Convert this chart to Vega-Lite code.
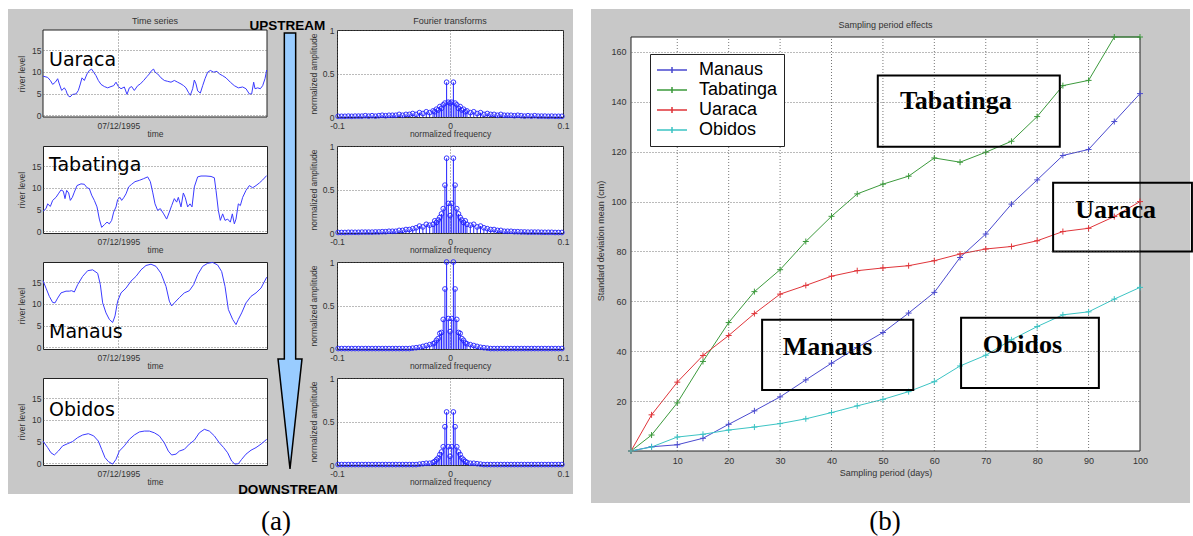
{
"$schema":"https://vega.github.io/schema/vega-lite/v6.json",
"background":"white",
"padding":{"left":7,"top":8,"right":0,"bottom":0},
"config":{
 "view":{"stroke":"#222","fill":"white","strokeWidth":1},
 "axis":{"labelFont":"Liberation Sans","titleFont":"Liberation Sans","labelFontSize":8.5,"titleFontSize":8.5,"titleFontWeight":"normal","labelColor":"#333","titleColor":"#333","domain":false,"ticks":false,"grid":true,"gridColor":"#555","gridDash":[1,2],"gridOpacity":0.8,"labelFlush":false,"labelOverlap":false},
 "axisX":{"labelPadding":4,"titlePadding":0},
 "axisY":{"labelPadding":2,"titlePadding":5}
},
"datasets":{
"ts":[
{"s":"U","t":0,"v":9.0},{"s":"U","t":14,"v":8.7},{"s":"U","t":22,"v":8.0},{"s":"U","t":29,"v":7.1},{"s":"U","t":37,"v":7.6},{"s":"U","t":44,"v":8.4},{"s":"U","t":49,"v":7.2},{"s":"U","t":56,"v":5.7},{"s":"U","t":64,"v":6.3},{"s":"U","t":69,"v":5.7},{"s":"U","t":74,"v":4.6},{"s":"U","t":81,"v":4.2},{"s":"U","t":89,"v":4.8},{"s":"U","t":99,"v":4.9},{"s":"U","t":106,"v":5.7},{"s":"U","t":112,"v":7.2},{"s":"U","t":117,"v":8.6},{"s":"U","t":124,"v":8.0},{"s":"U","t":132,"v":9.5},{"s":"U","t":139,"v":10.3},{"s":"U","t":146,"v":10.6},{"s":"U","t":152,"v":9.9},{"s":"U","t":159,"v":9.1},{"s":"U","t":166,"v":8.0},{"s":"U","t":174,"v":7.1},{"s":"U","t":184,"v":6.6},{"s":"U","t":194,"v":6.3},{"s":"U","t":204,"v":6.6},{"s":"U","t":212,"v":6.8},{"s":"U","t":219,"v":7.6},{"s":"U","t":226,"v":6.6},{"s":"U","t":234,"v":6.1},{"s":"U","t":244,"v":6.5},{"s":"U","t":252,"v":4.8},{"s":"U","t":259,"v":6.3},{"s":"U","t":266,"v":6.6},{"s":"U","t":274,"v":5.7},{"s":"U","t":284,"v":6.8},{"s":"U","t":292,"v":7.2},{"s":"U","t":302,"v":8.0},{"s":"U","t":312,"v":8.9},{"s":"U","t":319,"v":9.5},{"s":"U","t":326,"v":10.3},{"s":"U","t":332,"v":10.6},{"s":"U","t":336,"v":9.9},{"s":"U","t":344,"v":9.5},{"s":"U","t":354,"v":8.6},{"s":"U","t":364,"v":8.0},{"s":"U","t":374,"v":7.8},{"s":"U","t":384,"v":7.6},{"s":"U","t":394,"v":8.0},{"s":"U","t":404,"v":7.6},{"s":"U","t":414,"v":7.2},{"s":"U","t":422,"v":6.8},{"s":"U","t":429,"v":6.3},{"s":"U","t":436,"v":5.3},{"s":"U","t":442,"v":4.6},{"s":"U","t":449,"v":6.1},{"s":"U","t":454,"v":8.1},{"s":"U","t":459,"v":7.2},{"s":"U","t":464,"v":5.6},{"s":"U","t":472,"v":5.1},{"s":"U","t":479,"v":6.8},{"s":"U","t":486,"v":8.4},{"s":"U","t":494,"v":9.9},{"s":"U","t":502,"v":10.3},{"s":"U","t":512,"v":9.9},{"s":"U","t":522,"v":10.1},{"s":"U","t":529,"v":9.5},{"s":"U","t":539,"v":9.1},{"s":"U","t":549,"v":8.6},{"s":"U","t":562,"v":7.6},{"s":"U","t":574,"v":6.8},{"s":"U","t":586,"v":6.3},{"s":"U","t":599,"v":6.5},{"s":"U","t":609,"v":6.1},{"s":"U","t":619,"v":4.9},{"s":"U","t":626,"v":4.9},{"s":"U","t":632,"v":7.6},{"s":"U","t":636,"v":6.1},{"s":"U","t":644,"v":6.3},{"s":"U","t":652,"v":6.1},{"s":"U","t":659,"v":6.8},{"s":"U","t":666,"v":8.4},{"s":"U","t":671,"v":10.4},
{"s":"T","t":0,"v":4.6},{"s":"T","t":9,"v":5.2},{"s":"T","t":14,"v":6.3},{"s":"T","t":22,"v":5.7},{"s":"T","t":29,"v":7.1},{"s":"T","t":39,"v":7.8},{"s":"T","t":46,"v":8.6},{"s":"T","t":54,"v":9.5},{"s":"T","t":61,"v":9.2},{"s":"T","t":66,"v":7.5},{"s":"T","t":71,"v":9.4},{"s":"T","t":77,"v":8.8},{"s":"T","t":82,"v":7.1},{"s":"T","t":88,"v":7.8},{"s":"T","t":94,"v":9.0},{"s":"T","t":102,"v":10.5},{"s":"T","t":114,"v":10.9},{"s":"T","t":124,"v":10.8},{"s":"T","t":132,"v":10.0},{"s":"T","t":139,"v":9.8},{"s":"T","t":146,"v":8.3},{"s":"T","t":154,"v":7.1},{"s":"T","t":162,"v":5.6},{"s":"T","t":169,"v":2.8},{"s":"T","t":176,"v":0.9},{"s":"T","t":184,"v":1.5},{"s":"T","t":192,"v":2.1},{"s":"T","t":199,"v":1.7},{"s":"T","t":206,"v":2.5},{"s":"T","t":212,"v":4.4},{"s":"T","t":219,"v":5.6},{"s":"T","t":224,"v":7.3},{"s":"T","t":231,"v":7.8},{"s":"T","t":236,"v":7.1},{"s":"T","t":242,"v":7.7},{"s":"T","t":249,"v":8.6},{"s":"T","t":257,"v":10.2},{"s":"T","t":266,"v":10.8},{"s":"T","t":276,"v":11.4},{"s":"T","t":289,"v":11.7},{"s":"T","t":302,"v":12.1},{"s":"T","t":314,"v":12.5},{"s":"T","t":322,"v":11.4},{"s":"T","t":329,"v":9.0},{"s":"T","t":336,"v":6.3},{"s":"T","t":344,"v":4.8},{"s":"T","t":352,"v":5.2},{"s":"T","t":362,"v":4.0},{"s":"T","t":371,"v":2.8},{"s":"T","t":379,"v":4.4},{"s":"T","t":386,"v":5.9},{"s":"T","t":394,"v":7.5},{"s":"T","t":401,"v":6.7},{"s":"T","t":406,"v":7.8},{"s":"T","t":414,"v":5.6},{"s":"T","t":421,"v":8.8},{"s":"T","t":427,"v":7.7},{"s":"T","t":434,"v":5.6},{"s":"T","t":441,"v":6.3},{"s":"T","t":447,"v":5.6},{"s":"T","t":454,"v":10.2},{"s":"T","t":464,"v":12.5},{"s":"T","t":474,"v":12.7},{"s":"T","t":489,"v":12.7},{"s":"T","t":504,"v":12.6},{"s":"T","t":514,"v":12.3},{"s":"T","t":519,"v":9.4},{"s":"T","t":526,"v":4.8},{"s":"T","t":532,"v":2.5},{"s":"T","t":539,"v":4.0},{"s":"T","t":546,"v":2.5},{"s":"T","t":554,"v":2.8},{"s":"T","t":562,"v":2.1},{"s":"T","t":568,"v":4.0},{"s":"T","t":574,"v":1.7},{"s":"T","t":579,"v":2.8},{"s":"T","t":586,"v":6.3},{"s":"T","t":592,"v":5.9},{"s":"T","t":599,"v":7.8},{"s":"T","t":609,"v":9.4},{"s":"T","t":619,"v":10.5},{"s":"T","t":629,"v":10.0},{"s":"T","t":639,"v":10.5},{"s":"T","t":649,"v":11.1},{"s":"T","t":659,"v":11.8},{"s":"T","t":671,"v":12.8},
{"s":"M","t":0,"v":15.3},{"s":"M","t":9,"v":13.6},{"s":"M","t":19,"v":11.7},{"s":"M","t":29,"v":10.3},{"s":"M","t":36,"v":10.2},{"s":"M","t":44,"v":11.3},{"s":"M","t":54,"v":12.5},{"s":"M","t":69,"v":12.9},{"s":"M","t":79,"v":12.9},{"s":"M","t":86,"v":13.0},{"s":"M","t":94,"v":12.7},{"s":"M","t":104,"v":14.4},{"s":"M","t":119,"v":16.3},{"s":"M","t":134,"v":17.6},{"s":"M","t":149,"v":17.8},{"s":"M","t":164,"v":17.0},{"s":"M","t":172,"v":14.4},{"s":"M","t":179,"v":10.2},{"s":"M","t":189,"v":7.9},{"s":"M","t":199,"v":6.4},{"s":"M","t":209,"v":5.7},{"s":"M","t":216,"v":7.2},{"s":"M","t":224,"v":10.6},{"s":"M","t":234,"v":12.5},{"s":"M","t":249,"v":13.6},{"s":"M","t":264,"v":15.2},{"s":"M","t":279,"v":16.3},{"s":"M","t":294,"v":17.8},{"s":"M","t":309,"v":18.8},{"s":"M","t":324,"v":19.1},{"s":"M","t":339,"v":18.6},{"s":"M","t":354,"v":17.0},{"s":"M","t":369,"v":14.0},{"s":"M","t":379,"v":10.6},{"s":"M","t":386,"v":9.5},{"s":"M","t":394,"v":10.2},{"s":"M","t":409,"v":11.4},{"s":"M","t":424,"v":12.5},{"s":"M","t":439,"v":13.0},{"s":"M","t":452,"v":14.4},{"s":"M","t":464,"v":16.7},{"s":"M","t":479,"v":18.6},{"s":"M","t":494,"v":19.3},{"s":"M","t":509,"v":19.5},{"s":"M","t":524,"v":18.9},{"s":"M","t":536,"v":17.4},{"s":"M","t":546,"v":14.0},{"s":"M","t":556,"v":8.7},{"s":"M","t":569,"v":6.4},{"s":"M","t":579,"v":5.2},{"s":"M","t":586,"v":6.4},{"s":"M","t":596,"v":7.9},{"s":"M","t":609,"v":10.2},{"s":"M","t":624,"v":11.7},{"s":"M","t":639,"v":12.5},{"s":"M","t":654,"v":13.6},{"s":"M","t":671,"v":16.1},
{"s":"O","t":0,"v":5.1},{"s":"O","t":14,"v":3.6},{"s":"O","t":24,"v":2.4},{"s":"O","t":34,"v":1.9},{"s":"O","t":46,"v":2.8},{"s":"O","t":59,"v":4.0},{"s":"O","t":74,"v":4.5},{"s":"O","t":89,"v":5.0},{"s":"O","t":104,"v":5.9},{"s":"O","t":119,"v":6.5},{"s":"O","t":136,"v":6.8},{"s":"O","t":152,"v":6.3},{"s":"O","t":166,"v":5.1},{"s":"O","t":176,"v":3.2},{"s":"O","t":186,"v":1.3},{"s":"O","t":196,"v":0.4},{"s":"O","t":209,"v":-0.2},{"s":"O","t":219,"v":0.9},{"s":"O","t":229,"v":2.8},{"s":"O","t":244,"v":4.0},{"s":"O","t":259,"v":5.5},{"s":"O","t":274,"v":6.5},{"s":"O","t":289,"v":7.2},{"s":"O","t":304,"v":7.4},{"s":"O","t":319,"v":7.4},{"s":"O","t":334,"v":7.0},{"s":"O","t":349,"v":6.3},{"s":"O","t":364,"v":4.7},{"s":"O","t":376,"v":2.8},{"s":"O","t":386,"v":1.9},{"s":"O","t":399,"v":2.1},{"s":"O","t":409,"v":2.8},{"s":"O","t":424,"v":3.2},{"s":"O","t":439,"v":4.4},{"s":"O","t":454,"v":5.3},{"s":"O","t":469,"v":7.0},{"s":"O","t":484,"v":7.8},{"s":"O","t":499,"v":7.4},{"s":"O","t":514,"v":6.3},{"s":"O","t":529,"v":4.7},{"s":"O","t":542,"v":3.6},{"s":"O","t":554,"v":2.4},{"s":"O","t":566,"v":0.5},{"s":"O","t":576,"v":-0.2},{"s":"O","t":586,"v":-0.1},{"s":"O","t":596,"v":0.9},{"s":"O","t":609,"v":2.1},{"s":"O","t":624,"v":3.0},{"s":"O","t":639,"v":3.6},{"s":"O","t":654,"v":4.4},{"s":"O","t":671,"v":5.5}
],
"fft":[
{"f":-0.099,"U":0.008,"T":0.006,"M":0.005,"O":0.005},
{"f":-0.096,"U":0.008,"T":0.006,"M":0.005,"O":0.005},
{"f":-0.093,"U":0.008,"T":0.006,"M":0.005,"O":0.005},
{"f":-0.09,"U":0.01,"T":0.008,"M":0.005,"O":0.005},
{"f":-0.087,"U":0.008,"T":0.008,"M":0.005,"O":0.005},
{"f":-0.084,"U":0.01,"T":0.008,"M":0.005,"O":0.005},
{"f":-0.081,"U":0.01,"T":0.008,"M":0.005,"O":0.005},
{"f":-0.078,"U":0.01,"T":0.01,"M":0.005,"O":0.005},
{"f":-0.075,"U":0.015,"T":0.01,"M":0.005,"O":0.005},
{"f":-0.072,"U":0.01,"T":0.01,"M":0.005,"O":0.005},
{"f":-0.069,"U":0.015,"T":0.01,"M":0.005,"O":0.005},
{"f":-0.066,"U":0.01,"T":0.012,"M":0.005,"O":0.005},
{"f":-0.063,"U":0.015,"T":0.012,"M":0.005,"O":0.005},
{"f":-0.06,"U":0.02,"T":0.015,"M":0.005,"O":0.005},
{"f":-0.057,"U":0.015,"T":0.015,"M":0.005,"O":0.005},
{"f":-0.054,"U":0.02,"T":0.02,"M":0.005,"O":0.005},
{"f":-0.051,"U":0.02,"T":0.02,"M":0.005,"O":0.005},
{"f":-0.048,"U":0.02,"T":0.02,"M":0.005,"O":0.005},
{"f":-0.045,"U":0.03,"T":0.03,"M":0.005,"O":0.005},
{"f":-0.042,"U":0.02,"T":0.03,"M":0.005,"O":0.005},
{"f":-0.039,"U":0.03,"T":0.04,"M":0.005,"O":0.005},
{"f":-0.036,"U":0.03,"T":0.04,"M":0.005,"O":0.005},
{"f":-0.033,"U":0.04,"T":0.05,"M":0.01,"O":0.005},
{"f":-0.03,"U":0.03,"T":0.06,"M":0.015,"O":0.005},
{"f":-0.027,"U":0.05,"T":0.08,"M":0.02,"O":0.01},
{"f":-0.024,"U":0.04,"T":0.07,"M":0.03,"O":0.015},
{"f":-0.021,"U":0.06,"T":0.1,"M":0.04,"O":0.02},
{"f":-0.018,"U":0.05,"T":0.09,"M":0.05,"O":0.02},
{"f":-0.015,"U":0.07,"T":0.1,"M":0.06,"O":0.03},
{"f":-0.0135,"U":0.06,"T":0.14,"M":0.07,"O":0.04},
{"f":-0.012,"U":0.09,"T":0.12,"M":0.1,"O":0.06},
{"f":-0.0105,"U":0.08,"T":0.15,"M":0.12,"O":0.08},
{"f":-0.009,"U":0.12,"T":0.18,"M":0.18,"O":0.12},
{"f":-0.0075,"U":0.1,"T":0.22,"M":0.19,"O":0.15},
{"f":-0.006,"U":0.14,"T":0.28,"M":0.34,"O":0.21},
{"f":-0.0045,"U":0.16,"T":0.55,"M":0.69,"O":0.44},
{"f":-0.003,"U":0.4,"T":0.86,"M":1.0,"O":0.61},
{"f":-0.0015,"U":0.17,"T":0.34,"M":0.35,"O":0.21},
{"f":0,"U":0.16,"T":0.2,"M":0.2,"O":0.1},
{"f":0.0015,"U":0.17,"T":0.34,"M":0.35,"O":0.21},
{"f":0.003,"U":0.4,"T":0.86,"M":1.0,"O":0.61},
{"f":0.0045,"U":0.16,"T":0.55,"M":0.69,"O":0.44},
{"f":0.006,"U":0.14,"T":0.28,"M":0.34,"O":0.21},
{"f":0.0075,"U":0.1,"T":0.22,"M":0.19,"O":0.15},
{"f":0.009,"U":0.12,"T":0.18,"M":0.18,"O":0.12},
{"f":0.0105,"U":0.08,"T":0.15,"M":0.12,"O":0.08},
{"f":0.012,"U":0.09,"T":0.12,"M":0.1,"O":0.06},
{"f":0.0135,"U":0.06,"T":0.14,"M":0.07,"O":0.04},
{"f":0.015,"U":0.07,"T":0.1,"M":0.06,"O":0.03},
{"f":0.018,"U":0.05,"T":0.09,"M":0.05,"O":0.02},
{"f":0.021,"U":0.06,"T":0.1,"M":0.04,"O":0.02},
{"f":0.024,"U":0.04,"T":0.07,"M":0.03,"O":0.015},
{"f":0.027,"U":0.05,"T":0.08,"M":0.02,"O":0.01},
{"f":0.03,"U":0.03,"T":0.06,"M":0.015,"O":0.005},
{"f":0.033,"U":0.04,"T":0.05,"M":0.01,"O":0.005},
{"f":0.036,"U":0.03,"T":0.04,"M":0.005,"O":0.005},
{"f":0.039,"U":0.03,"T":0.04,"M":0.005,"O":0.005},
{"f":0.042,"U":0.02,"T":0.03,"M":0.005,"O":0.005},
{"f":0.045,"U":0.03,"T":0.03,"M":0.005,"O":0.005},
{"f":0.048,"U":0.02,"T":0.02,"M":0.005,"O":0.005},
{"f":0.051,"U":0.02,"T":0.02,"M":0.005,"O":0.005},
{"f":0.054,"U":0.02,"T":0.02,"M":0.005,"O":0.005},
{"f":0.057,"U":0.015,"T":0.015,"M":0.005,"O":0.005},
{"f":0.06,"U":0.02,"T":0.015,"M":0.005,"O":0.005},
{"f":0.063,"U":0.015,"T":0.012,"M":0.005,"O":0.005},
{"f":0.066,"U":0.01,"T":0.012,"M":0.005,"O":0.005},
{"f":0.069,"U":0.015,"T":0.01,"M":0.005,"O":0.005},
{"f":0.072,"U":0.01,"T":0.01,"M":0.005,"O":0.005},
{"f":0.075,"U":0.015,"T":0.01,"M":0.005,"O":0.005},
{"f":0.078,"U":0.01,"T":0.01,"M":0.005,"O":0.005},
{"f":0.081,"U":0.01,"T":0.008,"M":0.005,"O":0.005},
{"f":0.084,"U":0.01,"T":0.008,"M":0.005,"O":0.005},
{"f":0.087,"U":0.008,"T":0.008,"M":0.005,"O":0.005},
{"f":0.09,"U":0.01,"T":0.008,"M":0.005,"O":0.005},
{"f":0.093,"U":0.008,"T":0.006,"M":0.005,"O":0.005},
{"f":0.096,"U":0.008,"T":0.006,"M":0.005,"O":0.005},
{"f":0.099,"U":0.008,"T":0.006,"M":0.005,"O":0.005}
],
"sp":[
{"s":"Manaus","p":1,"v":0},{"s":"Manaus","p":5,"v":1.7},{"s":"Manaus","p":10,"v":2.5},{"s":"Manaus","p":15,"v":5.1},{"s":"Manaus","p":20,"v":10.7},{"s":"Manaus","p":25,"v":16.1},{"s":"Manaus","p":30,"v":21.7},{"s":"Manaus","p":35,"v":28.5},{"s":"Manaus","p":40,"v":35.2},{"s":"Manaus","p":45,"v":41.5},{"s":"Manaus","p":50,"v":47.5},{"s":"Manaus","p":55,"v":55.3},{"s":"Manaus","p":60,"v":63.6},{"s":"Manaus","p":65,"v":77.6},{"s":"Manaus","p":70,"v":87},{"s":"Manaus","p":75,"v":99},{"s":"Manaus","p":80,"v":108.7},{"s":"Manaus","p":85,"v":118.5},{"s":"Manaus","p":90,"v":120.9},{"s":"Manaus","p":95,"v":132.1},{"s":"Manaus","p":100,"v":143.3},
{"s":"Tabatinga","p":1,"v":0},{"s":"Tabatinga","p":5,"v":6.4},{"s":"Tabatinga","p":10,"v":19.3},{"s":"Tabatinga","p":15,"v":35.9},{"s":"Tabatinga","p":20,"v":51.5},{"s":"Tabatinga","p":25,"v":63.9},{"s":"Tabatinga","p":30,"v":72.7},{"s":"Tabatinga","p":35,"v":84},{"s":"Tabatinga","p":40,"v":94.1},{"s":"Tabatinga","p":45,"v":103.1},{"s":"Tabatinga","p":50,"v":107},{"s":"Tabatinga","p":55,"v":110.2},{"s":"Tabatinga","p":60,"v":117.5},{"s":"Tabatinga","p":65,"v":115.8},{"s":"Tabatinga","p":70,"v":119.8},{"s":"Tabatinga","p":75,"v":124.2},{"s":"Tabatinga","p":80,"v":134.1},{"s":"Tabatinga","p":85,"v":146.5},{"s":"Tabatinga","p":90,"v":148.6},{"s":"Tabatinga","p":95,"v":166},{"s":"Tabatinga","p":100,"v":166},
{"s":"Uaraca","p":1,"v":0},{"s":"Uaraca","p":5,"v":14.5},{"s":"Uaraca","p":10,"v":27.6},{"s":"Uaraca","p":15,"v":38.3},{"s":"Uaraca","p":20,"v":46.3},{"s":"Uaraca","p":25,"v":55.1},{"s":"Uaraca","p":30,"v":62.9},{"s":"Uaraca","p":35,"v":66.4},{"s":"Uaraca","p":40,"v":70.1},{"s":"Uaraca","p":45,"v":72.3},{"s":"Uaraca","p":50,"v":73.4},{"s":"Uaraca","p":55,"v":74.3},{"s":"Uaraca","p":60,"v":76.3},{"s":"Uaraca","p":65,"v":79},{"s":"Uaraca","p":70,"v":81},{"s":"Uaraca","p":75,"v":82},{"s":"Uaraca","p":80,"v":84.3},{"s":"Uaraca","p":85,"v":88},{"s":"Uaraca","p":90,"v":89.3},{"s":"Uaraca","p":95,"v":94},{"s":"Uaraca","p":100,"v":100},
{"s":"Obidos","p":1,"v":0},{"s":"Obidos","p":5,"v":1.6},{"s":"Obidos","p":10,"v":5.6},{"s":"Obidos","p":15,"v":6.7},{"s":"Obidos","p":20,"v":8.4},{"s":"Obidos","p":25,"v":9.6},{"s":"Obidos","p":30,"v":11},{"s":"Obidos","p":35,"v":12.9},{"s":"Obidos","p":40,"v":15.4},{"s":"Obidos","p":45,"v":18.1},{"s":"Obidos","p":50,"v":20.7},{"s":"Obidos","p":55,"v":23.8},{"s":"Obidos","p":60,"v":27.8},{"s":"Obidos","p":65,"v":34.1},{"s":"Obidos","p":70,"v":38.4},{"s":"Obidos","p":75,"v":44.6},{"s":"Obidos","p":80,"v":49.9},{"s":"Obidos","p":85,"v":54.6},{"s":"Obidos","p":90,"v":55.8},{"s":"Obidos","p":95,"v":60.9},{"s":"Obidos","p":100,"v":65.6}
]
},
"spacing":16,
"bounds":"full",
"resolve":{"scale":{"color":"independent"},"legend":{"color":"independent"}},
"hconcat":[
{
 "columns":2,
 "bounds":"flush",
 "spacing":{"row":29,"column":70},
 "concat":[
  {"width":224,"height":87,
   "layer":[
    {"data":{"values":[{}]},"mark":{"type":"rect","color":"#c8c8c8"},"encoding":{"x":{"datum":-105,"type":"quantitative","scale":{"domain":[0,672],"nice":false}},"x2":{"datum":1590},"y":{"datum":24.43,"type":"quantitative","scale":{"domain":[-0.4,19.6],"nice":false}},"y2":{"datum":-87.07}}},
    {"data":{"values":[{}]},"mark":{"type":"rect","fill":"white","stroke":"#222","strokeWidth":1},"encoding":{"x":{"datum":0,"type":"quantitative"},"x2":{"datum":672},"y":{"datum":19.6,"type":"quantitative"},"y2":{"datum":-0.4}}},
    {"data":{"values":[{}]},"mark":{"type":"point","shape":"M-0.026,-1L0.026,-1L0.026,0.495L0.055,0.495L0,1L-0.055,0.495L-0.026,0.495Z","size":190096,"filled":true,"fill":"#99ccff","stroke":"#000","strokeWidth":1.5,"opacity":1},"encoding":{"x":{"datum":741,"type":"quantitative"},"y":{"datum":-31.2,"type":"quantitative"}}},
    {"data":{"values":[{}]},"mark":{"type":"text","text":"UPSTREAM","font":"Liberation Sans","fontWeight":"bold","fontSize":13.5,"align":"center","baseline":"alphabetic","color":"#000"},"encoding":{"x":{"datum":733,"type":"quantitative"},"y":{"datum":19.6,"type":"quantitative"}}},
    {"data":{"values":[{}]},"mark":{"type":"text","text":"DOWNSTREAM","font":"Liberation Sans","fontWeight":"bold","fontSize":13.5,"align":"center","baseline":"alphabetic","color":"#000"},"encoding":{"x":{"datum":735,"type":"quantitative"},"y":{"datum":-87.1,"type":"quantitative"}}},
    {"data":{"values":[{}]},"mark":{"type":"text","text":"Time series","font":"Liberation Sans","fontSize":9,"align":"center","baseline":"alphabetic","color":"#333"},"encoding":{"x":{"datum":336,"type":"quantitative"},"y":{"datum":20.98,"type":"quantitative"}}},
    {"data":{"name":"ts"},"transform":[{"filter":"datum.s=='U'"}],"mark":{"type":"line","color":"#3b3bff","strokeWidth":1},"encoding":{"x":{"field":"t","type":"quantitative","scale":{"domain":[0,672],"nice":false},"axis":{"values":[226],"labelExpr":"'07/12/1995'","title":"time","zindex":1}},"y":{"field":"v","type":"quantitative","scale":{"domain":[-0.4,19.6],"nice":false},"axis":{"values":[0,5,10,15],"tickCount":10,"labelOverlap":false,"title":"river level","zindex":1}}}},
    {"data":{"values":[{}]},"mark":{"type":"text","text":"Uaraca","font":"DejaVu Sans","fontSize":19,"align":"left","baseline":"alphabetic","color":"#000"},"encoding":{"x":{"datum":18,"type":"quantitative"},"y":{"datum":11.32,"type":"quantitative"}}},
    {"data":{"values":[{}]},"mark":{"type":"text","text":"(a)","font":"Liberation Serif","fontSize":27,"align":"center","baseline":"alphabetic","color":"#000"},"encoding":{"x":{"datum":699,"type":"quantitative"},"y":{"datum":-95.3,"type":"quantitative"}}}
   ]},
  {"width":226,"height":87,
   "layer":[
    {"data":{"name":"fft"},"mark":{"type":"rule","color":"#2222ff","strokeWidth":1},"encoding":{"x":{"field":"f","type":"quantitative","scale":{"domain":[-0.1,0.1],"nice":false},"axis":{"values":[-0.1,0,0.1],"labelExpr":"datum.value+''","title":"normalized frequency"}},"y":{"field":"U","type":"quantitative","scale":{"domain":[0,1],"nice":false},"axis":{"values":[0,0.5,1],"tickCount":10,"labelExpr":"datum.value+''","title":"normalized amplitude","labelPadding":3,"titlePadding":4}},"y2":{"datum":0}}},
    {"data":{"name":"fft"},"mark":{"type":"point","shape":"circle","filled":false,"color":"#2222ff","size":22,"strokeWidth":1,"opacity":0.9},"encoding":{"x":{"field":"f","type":"quantitative"},"y":{"field":"U","type":"quantitative"}}},
    {"data":{"values":[{}]},"mark":{"type":"text","text":"Fourier transforms","font":"Liberation Sans","fontSize":9,"align":"center","baseline":"alphabetic","color":"#333"},"encoding":{"x":{"datum":0,"type":"quantitative"},"y":{"datum":1.069,"type":"quantitative"}}}
   ]},
  {"width":224,"height":87,
   "layer":[
    {"data":{"name":"ts"},"transform":[{"filter":"datum.s=='T'"}],"mark":{"type":"line","color":"#3b3bff","strokeWidth":1},"encoding":{"x":{"field":"t","type":"quantitative","scale":{"domain":[0,672],"nice":false},"axis":{"values":[226],"labelExpr":"'07/12/1995'","title":"time"}},"y":{"field":"v","type":"quantitative","scale":{"domain":[-0.4,19.6],"nice":false},"axis":{"values":[0,5,10,15],"tickCount":10,"labelOverlap":false,"title":"river level"}}}},
    {"data":{"values":[{}]},"mark":{"type":"text","text":"Tabatinga","font":"DejaVu Sans","fontSize":19,"align":"left","baseline":"alphabetic","color":"#000"},"encoding":{"x":{"datum":18,"type":"quantitative"},"y":{"datum":13.85,"type":"quantitative"}}}
   ]},
  {"width":226,"height":87,"data":{"name":"fft"},
   "layer":[
    {"mark":{"type":"rule","color":"#2222ff","strokeWidth":1},"encoding":{"x":{"field":"f","type":"quantitative","scale":{"domain":[-0.1,0.1],"nice":false},"axis":{"values":[-0.1,0,0.1],"labelExpr":"datum.value+''","title":"normalized frequency"}},"y":{"field":"T","type":"quantitative","scale":{"domain":[0,1],"nice":false},"axis":{"values":[0,0.5,1],"labelExpr":"datum.value+''","title":"normalized amplitude","labelPadding":3,"titlePadding":4}},"y2":{"datum":0}}},
    {"mark":{"type":"point","shape":"circle","filled":false,"color":"#2222ff","size":22,"strokeWidth":1,"opacity":0.9},"encoding":{"x":{"field":"f","type":"quantitative"},"y":{"field":"T","type":"quantitative"}}}
   ]},
  {"width":224,"height":87,
   "layer":[
    {"data":{"name":"ts"},"transform":[{"filter":"datum.s=='M'"}],"mark":{"type":"line","color":"#3b3bff","strokeWidth":1},"encoding":{"x":{"field":"t","type":"quantitative","scale":{"domain":[0,672],"nice":false},"axis":{"values":[226],"labelExpr":"'07/12/1995'","title":"time"}},"y":{"field":"v","type":"quantitative","scale":{"domain":[-0.4,19.6],"nice":false},"axis":{"values":[0,5,10,15],"tickCount":10,"labelOverlap":false,"title":"river level"}}}},
    {"data":{"values":[{}]},"mark":{"type":"text","text":"Manaus","font":"DejaVu Sans","fontSize":19,"align":"left","baseline":"alphabetic","color":"#000"},"encoding":{"x":{"datum":18,"type":"quantitative"},"y":{"datum":2.13,"type":"quantitative"}}}
   ]},
  {"width":226,"height":87,"data":{"name":"fft"},
   "layer":[
    {"mark":{"type":"rule","color":"#2222ff","strokeWidth":1},"encoding":{"x":{"field":"f","type":"quantitative","scale":{"domain":[-0.1,0.1],"nice":false},"axis":{"values":[-0.1,0,0.1],"labelExpr":"datum.value+''","title":"normalized frequency"}},"y":{"field":"M","type":"quantitative","scale":{"domain":[0,1],"nice":false},"axis":{"values":[0,0.5,1],"labelExpr":"datum.value+''","title":"normalized amplitude","labelPadding":3,"titlePadding":4}},"y2":{"datum":0}}},
    {"mark":{"type":"point","shape":"circle","filled":false,"color":"#2222ff","size":22,"strokeWidth":1,"opacity":0.9},"encoding":{"x":{"field":"f","type":"quantitative"},"y":{"field":"M","type":"quantitative"}}}
   ]},
  {"width":224,"height":87,
   "layer":[
    {"data":{"name":"ts"},"transform":[{"filter":"datum.s=='O'"}],"mark":{"type":"line","color":"#3b3bff","strokeWidth":1},"encoding":{"x":{"field":"t","type":"quantitative","scale":{"domain":[0,672],"nice":false},"axis":{"values":[226],"labelExpr":"'07/12/1995'","title":"time"}},"y":{"field":"v","type":"quantitative","scale":{"domain":[-0.4,19.6],"nice":false},"axis":{"values":[0,5,10,15],"tickCount":10,"labelOverlap":false,"title":"river level"}}}},
    {"data":{"values":[{}]},"mark":{"type":"text","text":"Obidos","font":"DejaVu Sans","fontSize":19,"align":"left","baseline":"alphabetic","color":"#000"},"encoding":{"x":{"datum":18,"type":"quantitative"},"y":{"datum":10.86,"type":"quantitative"}}}
   ]},
  {"width":226,"height":87,"data":{"name":"fft"},
   "layer":[
    {"mark":{"type":"rule","color":"#2222ff","strokeWidth":1},"encoding":{"x":{"field":"f","type":"quantitative","scale":{"domain":[-0.1,0.1],"nice":false},"axis":{"values":[-0.1,0,0.1],"labelExpr":"datum.value+''","title":"normalized frequency"}},"y":{"field":"O","type":"quantitative","scale":{"domain":[0,1],"nice":false},"axis":{"values":[0,0.5,1],"labelExpr":"datum.value+''","title":"normalized amplitude","labelPadding":3,"titlePadding":4}},"y2":{"datum":0}}},
    {"mark":{"type":"point","shape":"circle","filled":false,"color":"#2222ff","size":22,"strokeWidth":1,"opacity":0.9},"encoding":{"x":{"field":"f","type":"quantitative"},"y":{"field":"O","type":"quantitative"}}}
   ]}
 ]
},
{"width":509,"height":421,
 "layer":[
  {"data":{"values":[{}]},"mark":{"type":"rect","color":"#c8c8c8"},"encoding":{"x":{"datum":-6.78,"type":"quantitative","scale":{"domain":[1,100],"nice":false}},"x2":{"datum":109.73},"y":{"datum":177.23,"type":"quantitative","scale":{"domain":[0,168.81],"nice":false}},"y2":{"datum":-20.85}}},
  {"data":{"values":[{}]},"mark":{"type":"rect","fill":"white","stroke":"#222","strokeWidth":1},"encoding":{"x":{"datum":1,"type":"quantitative"},"x2":{"datum":100},"y":{"datum":166,"type":"quantitative"},"y2":{"datum":0}}},
  {"data":{"values":[{"g":10},{"g":20},{"g":30},{"g":40},{"g":50},{"g":60},{"g":70},{"g":80},{"g":90}]},"mark":{"type":"rule","color":"#555","strokeDash":[1,2],"opacity":0.8,"strokeWidth":1},"encoding":{"x":{"field":"g","type":"quantitative"},"y":{"datum":0,"type":"quantitative"},"y2":{"datum":166}}},
  {"data":{"values":[{}]},"mark":{"type":"text","text":"Sampling period effects","font":"Liberation Sans","fontSize":9,"align":"center","baseline":"alphabetic","color":"#333"},"encoding":{"x":{"datum":50.5,"type":"quantitative"},"y":{"datum":169.6,"type":"quantitative"}}},
  {"data":{"name":"sp"},"mark":{"type":"line","strokeWidth":1},"encoding":{
    "x":{"field":"p","type":"quantitative","scale":{"domain":[1,100],"nice":false},"axis":{"values":[10,20,30,40,50,60,70,80,90,100],"tickCount":20,"grid":false,"title":"Sampling period (days)","labelFontSize":9,"titleFontSize":9,"labelPadding":5,"titlePadding":3,"zindex":1}},
    "y":{"field":"v","type":"quantitative","scale":{"domain":[0,168.81],"nice":false},"axis":{"values":[20,40,60,80,100,120,140,160],"tickCount":20,"title":"Standard deviation mean (cm)","labelFontSize":9,"titleFontSize":9,"labelPadding":5,"titlePadding":5,"zindex":1}},
    "color":{"field":"s","type":"nominal","scale":{"domain":["Manaus","Tabatinga","Uaraca","Obidos"],"range":["#4a4acf","#3c9a3c","#e0353a","#3cc4c4"]},
      "legend":{"title":null,"orient":"none","legendX":19,"legendY":24,"fillColor":"white","strokeColor":"#222","padding":6,"labelFont":"Liberation Sans","labelFontSize":18,"labelColor":"#000","symbolType":"M-1,0L1,0M0,-0.2L0,0.2","symbolSize":900,"symbolStrokeWidth":1.5,"labelOffset":11,"clipHeight":20,"rowPadding":0,"zindex":1}}}},
  {"data":{"name":"sp"},"mark":{"type":"point","shape":"M-1,0L1,0M0,-1L0,1","filled":false,"size":36,"strokeWidth":1,"opacity":1},"encoding":{"x":{"field":"p","type":"quantitative"},"y":{"field":"v","type":"quantitative"},"color":{"field":"s","type":"nominal","legend":null}}},
  {"data":{"values":[{}]},"mark":{"type":"rect","filled":false,"color":"#000","strokeWidth":2},"encoding":{"x":{"datum":49,"type":"quantitative"},"x2":{"datum":84.4},"y":{"datum":150.6,"type":"quantitative"},"y2":{"datum":122}}},
  {"data":{"values":[{}]},"mark":{"type":"rect","filled":false,"color":"#000","strokeWidth":2},"encoding":{"x":{"datum":83.1,"type":"quantitative"},"x2":{"datum":110.1},"y":{"datum":107.6,"type":"quantitative"},"y2":{"datum":80}}},
  {"data":{"values":[{}]},"mark":{"type":"rect","filled":false,"color":"#000","strokeWidth":2},"encoding":{"x":{"datum":26.5,"type":"quantitative"},"x2":{"datum":55.9},"y":{"datum":52.6,"type":"quantitative"},"y2":{"datum":24.5}}},
  {"data":{"values":[{}]},"mark":{"type":"rect","filled":false,"color":"#000","strokeWidth":2},"encoding":{"x":{"datum":65.2,"type":"quantitative"},"x2":{"datum":92},"y":{"datum":53.4,"type":"quantitative"},"y2":{"datum":25.3}}},
  {"data":{"values":[{}]},"mark":{"type":"text","text":"Tabatinga","font":"Liberation Serif","fontWeight":"bold","fontSize":26,"align":"left","baseline":"alphabetic","color":"#000"},"encoding":{"x":{"datum":53.3,"type":"quantitative"},"y":{"datum":137.1,"type":"quantitative"}}},
  {"data":{"values":[{}]},"mark":{"type":"text","text":"Uaraca","font":"Liberation Serif","fontWeight":"bold","fontSize":26,"align":"left","baseline":"alphabetic","color":"#000"},"encoding":{"x":{"datum":87.4,"type":"quantitative"},"y":{"datum":93.5,"type":"quantitative"}}},
  {"data":{"values":[{}]},"mark":{"type":"text","text":"Manaus","font":"Liberation Serif","fontWeight":"bold","fontSize":26,"align":"left","baseline":"alphabetic","color":"#000"},"encoding":{"x":{"datum":30.5,"type":"quantitative"},"y":{"datum":38.5,"type":"quantitative"}}},
  {"data":{"values":[{}]},"mark":{"type":"text","text":"Obidos","font":"Liberation Serif","fontWeight":"bold","fontSize":26,"align":"left","baseline":"alphabetic","color":"#000"},"encoding":{"x":{"datum":69.4,"type":"quantitative"},"y":{"datum":39.4,"type":"quantitative"}}},
  {"data":{"values":[{}]},"mark":{"type":"text","text":"(b)","font":"Liberation Serif","fontSize":27,"align":"center","baseline":"alphabetic","color":"#000"},"encoding":{"x":{"datum":50.4,"type":"quantitative"},"y":{"datum":-31.5,"type":"quantitative"}}}
 ]}
]
}
